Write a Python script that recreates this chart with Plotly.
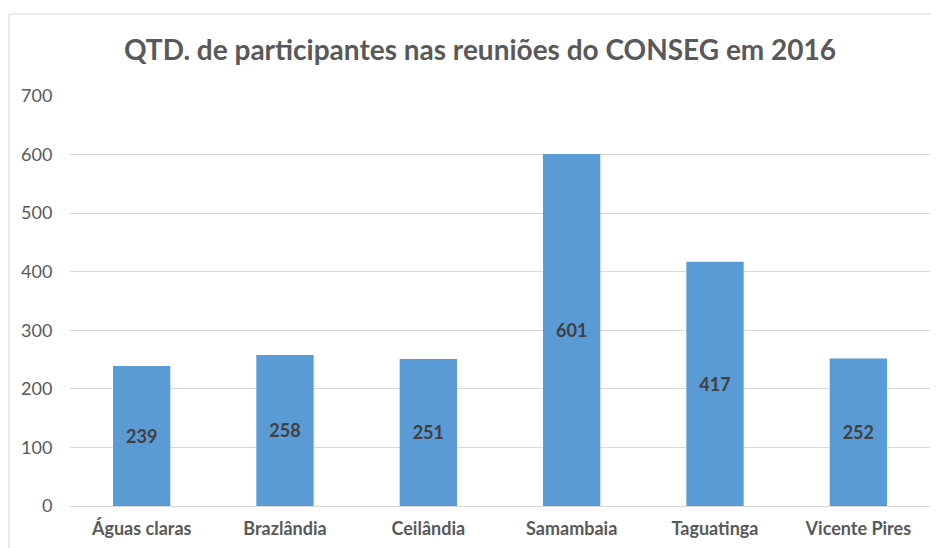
import plotly.graph_objects as go

categories = ["Águas claras", "Brazlândia", "Ceilândia", "Samambaia", "Taguatinga", "Vicente Pires"]
values = [239, 258, 251, 601, 417, 252]
y_ticks = [0, 100, 200, 300, 400, 500, 600, 700]

W, H = 939, 548
OFF = 8  # page body margin offset
L, R, T, B = 70 - OFF, 17, 96 - OFF, 50
pw, ph = W - L - R, H - T - B

fig = go.Figure(go.Bar(
    x=categories, y=values, width=0.4,
    marker=dict(color="#5b9bd5", line=dict(width=0)),
    text=[str(v) for v in values], textposition="inside", insidetextanchor="middle",
    textangle=0,
    textfont=dict(family="Lato", size=18, color="#404040", weight="bold"),
))

fig.update_layout(
    width=W, height=H,
    margin=dict(l=L, r=R, t=T, b=B),
    paper_bgcolor="white", plot_bgcolor="white",
    showlegend=False,
    title=dict(text="QTD. de participantes nas reuniões do CONSEG em 2016",
               x=(480 - OFF) / W, xanchor="center", y=1 - (50 - OFF) / H, yanchor="middle",
               font=dict(family="Lato", size=28, color="#595959", weight="bold")),
    xaxis=dict(showgrid=False, showline=True, linecolor="#d9d9d9", linewidth=1,
               ticks="outside", ticklen=6, tickcolor="rgba(0,0,0,0)",
               tickfont=dict(family="Lato", size=18, color="#595959", weight="bold"),
               range=[-0.5, 5.5]),
    yaxis=dict(range=[0, 700], tickvals=y_ticks, showgrid=True, gridcolor="#d9d9d9",
               gridwidth=1, zeroline=False, showline=False, ticks="outside",
               ticklen=13, tickcolor="rgba(0,0,0,0)",
               tickfont=dict(family="Lato", size=18, color="#595959")),
    shapes=[dict(type="rect", xref="paper", yref="paper",
                 x0=(1 - L) / pw, x1=1.05, y0=-0.3, y1=(H - B - (14 - OFF)) / ph,
                 line=dict(color="#d9d9d9", width=1), fillcolor="rgba(0,0,0,0)", layer="below")],
)

fig.write_html("out.html")
